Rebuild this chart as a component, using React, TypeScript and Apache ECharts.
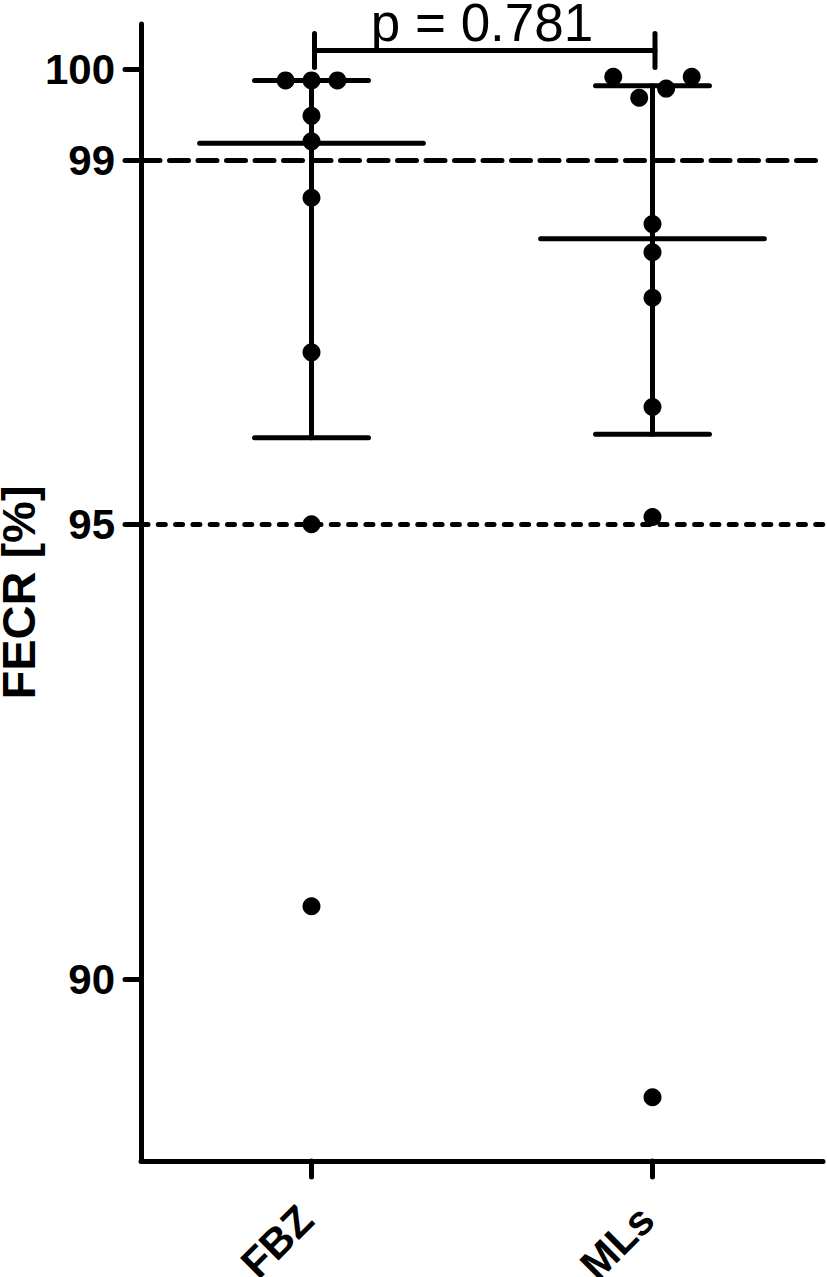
import React, { useEffect, useRef } from "react";
import * as echarts from "echarts";

// ---- data ----
const categories = ["FBZ", "MLs"];
const yTickValues = [90, 95, 99, 100];
const fbzValues = [99.88, 99.88, 99.88, 99.49, 99.21, 98.59, 96.89, 95.0, 90.8];
const fbzJitter = [-0.076, 0, 0.076, 0, 0, 0, 0, 0, 0];
const mlsValues = [99.92, 99.92, 99.79, 99.69, 98.3, 97.99, 97.49, 96.29, 95.08, 88.7];
const mlsJitter = [-0.115, 0.115, 0.04, -0.039, 0, 0, 0, 0, 0, 0];
const medians = [99.19, 98.14];
const lowerQuartiles = [95.95, 95.99];
const upperQuartiles = [99.88, 99.82];
const thresholdDashed = 99;
const thresholdDotted = 95;
const pValueLabel = "p = 0.781";
const bracketLevel = 100.21;

const FONT = "'Liberation Sans', Arial, Helvetica, sans-serif";
const LW = 5;

export default function App() {
  const ref = useRef<HTMLDivElement>(null);

  useEffect(() => {
    document.body.style.margin = "0";
    const chart = echarts.init(ref.current!, null, { renderer: "svg" });

    const groups = [fbzValues, mlsValues];
    const jitters = [fbzJitter, mlsJitter];

    const scatterSeries = groups.map((vals, gi) => ({
      type: "scatter",
      name: categories[gi],
      xAxisIndex: 1,
      data: vals.map((v, k) => [gi + jitters[gi][k], v]),
      symbol: "circle",
      symbolSize: 18,
      itemStyle: { color: "#000", opacity: 1 },
      z: 5,
      silent: true,
    }));

    const option: any = {
      animation: false,
      backgroundColor: "#fff",
      grid: {
        left: 141,
        right: 4,
        top: 24,
        bottom: 116,
        containLabel: false,
        outerBoundsMode: "none",
      },
      xAxis: [
        {
          type: "category",
          data: categories,
          boundaryGap: true,
          axisLine: { show: true, onZero: false, lineStyle: { color: "#000", width: LW, cap: "round" } },
          axisTick: { show: true, alignWithLabel: true, length: 16, lineStyle: { color: "#000", width: LW, cap: "round" } },
          axisLabel: {
            rotate: 45,
            interval: 0,
            margin: 46,
            align: "right",
            verticalAlign: "middle",
            padding: [0, 8, 0, 0],
            color: "#000",
            fontSize: 42,
            fontWeight: "bold",
            fontFamily: FONT,
          },
          splitLine: { show: false },
        },
        { type: "value", min: -0.5, max: 1.5, show: false },
      ],
      yAxis: {
        type: "value",
        min: 88,
        max: 100.5,
        name: "FECR [%]",
        nameLocation: "middle",
        nameGap: 99,
        nameMoveOverlap: false,
        nameTextStyle: { color: "#000", fontSize: 47, fontWeight: "bold", fontFamily: FONT },
        axisLine: { show: true, onZero: false, lineStyle: { color: "#000", width: LW, cap: "round" } },
        axisTick: { show: true, customValues: yTickValues, length: 16, lineStyle: { color: "#000", width: LW, cap: "round" } },
        axisLabel: {
          customValues: yTickValues,
          margin: 26,
          color: "#000",
          fontSize: 42,
          fontWeight: "bold",
          fontFamily: FONT,
        },
        splitLine: { show: false },
      },
      series: [
        {
          type: "custom",
          name: "median-iqr",
          xAxisIndex: 1,
          data: categories.map((c, i) => [i, medians[i], lowerQuartiles[i], upperQuartiles[i]]),
          encode: { x: 0, y: [1, 2, 3] },
          z: 3,
          silent: true,
          renderItem: (params: any, api: any) => {
            const x = api.value(0);
            const m = api.coord([x, api.value(1)]);
            const lo = api.coord([x, api.value(2)]);
            const hi = api.coord([x, api.value(3)]);
            const halfMed = api.size([0.328, 0])[0];
            const halfWh = api.size([0.167, 0])[0];
            const st = { stroke: "#000", lineWidth: LW, lineCap: "round" };
            return {
              type: "group",
              children: [
                { type: "line", shape: { x1: hi[0], y1: hi[1], x2: lo[0], y2: lo[1] }, style: st },
                { type: "line", shape: { x1: hi[0] - halfWh, y1: hi[1], x2: hi[0] + halfWh, y2: hi[1] }, style: st },
                { type: "line", shape: { x1: lo[0] - halfWh, y1: lo[1], x2: lo[0] + halfWh, y2: lo[1] }, style: st },
                { type: "line", shape: { x1: m[0] - halfMed, y1: m[1], x2: m[0] + halfMed, y2: m[1] }, style: st },
              ],
            };
          },
          markLine: {
            silent: true,
            symbol: "none",
            label: { show: false },
            z: 1,
            data: [
              { yAxis: thresholdDashed, lineStyle: { color: "#000", width: LW, type: [19, 9.5], cap: "round", opacity: 1 } },
              { yAxis: thresholdDotted, lineStyle: { color: "#000", width: LW, type: [7, 10.3], cap: "round", opacity: 1 } },
            ],
          },
        },
        {
          type: "custom",
          name: "bracket",
          xAxisIndex: 1,
          data: [[0, 1, bracketLevel]],
          encode: { x: [0, 1], y: 2 },
          z: 4,
          silent: true,
          clip: false,
          renderItem: (params: any, api: any) => {
            const a = api.coord([api.value(0), api.value(2)]);
            const b = api.coord([api.value(1), api.value(2)]);
            const xa = a[0] + 3;
            const xb = b[0] + 2.5;
            const y = a[1];
            const st = { stroke: "#000", lineWidth: LW, lineCap: "round" };
            return {
              type: "group",
              children: [
                { type: "line", shape: { x1: xa, y1: y, x2: xb, y2: y }, style: st },
                { type: "line", shape: { x1: xa, y1: y - 17, x2: xa, y2: y + 17 }, style: st },
                { type: "line", shape: { x1: xb, y1: y - 17, x2: xb, y2: y + 17 }, style: st },
                {
                  type: "text",
                  x: (a[0] + b[0]) / 2,
                  y: y - 27.7,
                  style: {
                    text: pValueLabel,
                    fill: "#000",
                    fontSize: 53,
                    lineHeight: 40,
                    fontFamily: FONT,
                    fontWeight: "normal",
                    align: "center",
                    verticalAlign: "middle",
                  },
                },
              ],
            };
          },
        },
        ...scatterSeries,
      ],
    };

    chart.setOption(option);
    return () => chart.dispose();
  }, []);

  return <div ref={ref} style={{ width: 827, height: 1277 }} />;
}
